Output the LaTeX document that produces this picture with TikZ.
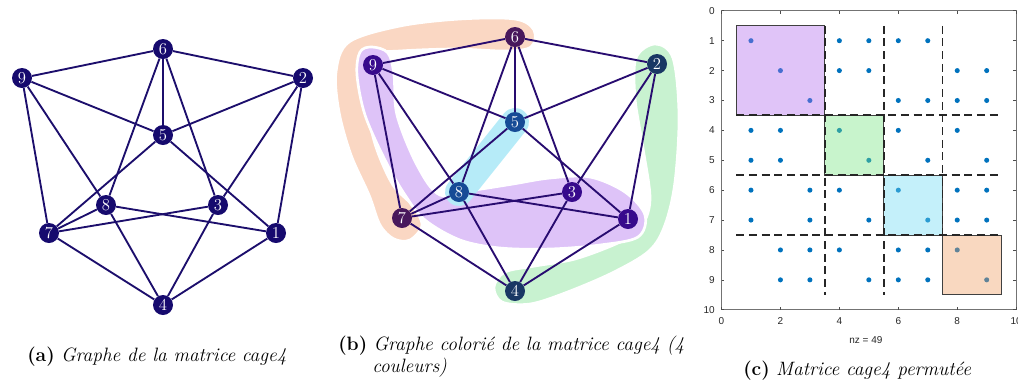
\documentclass[tikz,border=0pt]{standalone}
\usepackage{fontspec}
\newfontfamily\axisfont{Liberation Sans}
\definecolor{nodeA}{RGB}{22,10,110}
\definecolor{edgeA}{RGB}{28,14,108}
\definecolor{edgeB}{RGB}{40,12,112}
\definecolor{colPlum}{RGB}{72,24,92}
\definecolor{colViolet}{RGB}{55,10,140}
\definecolor{colNavy}{RGB}{25,55,100}
\definecolor{colBlue}{RGB}{22,75,150}
\definecolor{hullOrange}{RGB}{250,215,195}
\definecolor{hullPurple}{RGB}{222,195,248}
\definecolor{hullCyan}{RGB}{182,235,248}
\definecolor{hullGreen}{RGB}{200,242,208}
\definecolor{boxPurple}{RGB}{177,107,237}
\definecolor{boxGreen}{RGB}{117,227,127}
\definecolor{boxCyan}{RGB}{107,217,242}
\definecolor{boxOrange}{RGB}{240,157,97}
\definecolor{dotBlue}{RGB}{0,114,189}
\begin{document}
\begin{tikzpicture}
    [
        x=0.75pt, y=-0.75pt,
        every node/.style={inner sep=0pt},
        vertex/.style={circle, minimum size=15pt, text=white, font=\fontsize{12.5}{12.5}\selectfont},
        edgeA/.style={draw=edgeA, line width=1.4pt},
        edgeB/.style={draw=edgeB, line width=1.4pt},
        hull/.style={draw=white, line width=2pt},
        caption/.style={anchor=base west, font=\fontsize{14.5}{17}\selectfont},
        ticklabel/.style={font=\axisfont\fontsize{7.5}{9}\selectfont, text=black!85},
        blockline/.style={black!85, line width=1.45pt, dash pattern=on 6pt off 3.5pt},
    ]
  \useasboundingbox (0,0) rectangle (1018,387);

  % (a) Nodes
  \node [vertex, fill=nodeA] (A6) at (163,49) {6};
  \node [vertex, fill=nodeA] (A9) at (22,78) {9};
  \node [vertex, fill=nodeA] (A2) at (303,78) {2};
  \node [vertex, fill=nodeA] (A5) at (163,135) {5};
  \node [vertex, fill=nodeA] (A8) at (106,205) {8};
  \node [vertex, fill=nodeA] (A3) at (218,205) {3};
  \node [vertex, fill=nodeA] (A7) at (49,233) {7};
  \node [vertex, fill=nodeA] (A1) at (276,233) {1};
  \node [vertex, fill=nodeA] (A4) at (163,305) {4};

  % (a) Connections
  \foreach \u/\v in {6/9,6/2,6/5,6/8,6/3,9/5,9/8,9/7,2/5,2/3,2/1,5/7,5/1,8/7,8/1,8/4,3/7,3/4,7/4,1/4}
    \draw [edgeA] (A\u) -- (A\v);

  % (b) Colour classes
  \fill [hullOrange, hull] plot [smooth cycle, tension=0.55] coordinates {(515,19) (534,30) (531,47) (505,51) (455,49) (400,51) (369,55) (363,80) (368,115) (377,150) (393,185) (412,205) (422,225) (410,240) (394,239) (380,225) (369,195) (351,155) (339,112) (336,72) (349,42) (400,26) (460,19)};
  \fill [hullGreen, hull] plot [smooth cycle, tension=0.55] coordinates {(655,44) (673,58) (679,115) (675,182) (665,225) (649,251) (612,273) (565,293) (530,304) (502,302) (494,287) (505,272) (535,266) (575,259) (618,243) (640,229) (650,200) (643,148) (635,98) (636,58)};
  \fill [hullPurple, hull] plot [smooth cycle, tension=0.55] coordinates {(372,47) (388,53) (394,75) (397,115) (417,165) (440,195) (475,190) (513,184) (550,178) (590,177) (625,192) (645,215) (638,237) (600,245) (550,249) (500,248) (460,240) (425,220) (405,195) (385,160) (365,115) (357,75) (360,52)};
  \draw [hullCyan, line width=21pt, line cap=round] (459,192) -- (515,122);

  % (b) Nodes
  \node [vertex, fill=colPlum] (B6) at (515,37) {6};
  \node [vertex, fill=colViolet] (B9) at (373,65) {9};
  \node [vertex, fill=colNavy] (B2) at (657,64) {2};
  \node [vertex, fill=colBlue] (B5) at (515,122) {5};
  \node [vertex, fill=colBlue] (B8) at (459,192) {8};
  \node [vertex, fill=colViolet] (B3) at (572,192) {3};
  \node [vertex, fill=colPlum] (B7) at (402,218) {7};
  \node [vertex, fill=colViolet] (B1) at (628,219) {1};
  \node [vertex, fill=colNavy] (B4) at (515,291) {4};

  % (b) Connections
  \foreach \u/\v in {6/9,6/2,6/5,6/8,6/3,9/5,9/8,9/7,2/5,2/3,2/1,5/7,5/1,8/7,8/1,8/4,3/7,3/4,7/4,1/4}
    \draw [edgeB] (B\u) -- (B\v);

  % (c) Permuted matrix
  \begin{scope}[shift={(721.5,10.8)}, x=22.1pt, y=-22.42pt]
    \foreach \r/\cols in {1/{1,4,5,6,7}, 2/{2,4,5,8,9}, 3/{3,6,7,8,9}, 4/{1,2,4,6,8}, 5/{1,2,5,7,9},
                          6/{1,3,4,6,8,9}, 7/{1,3,5,7,8,9}, 8/{2,3,4,6,7,8}, 9/{2,3,5,6,7,9}}
      \foreach \c in \cols
        \fill [dotBlue] (\c,\r) circle [radius=1.9pt];
    \filldraw [fill=boxPurple, fill opacity=0.4, draw=black!75, line width=0.6pt] (0.5,0.5) rectangle (3.5,3.5);
    \filldraw [fill=boxGreen, fill opacity=0.4, draw=black!75, line width=0.6pt] (3.5,3.5) rectangle (5.5,5.5);
    \filldraw [fill=boxCyan, fill opacity=0.4, draw=black!75, line width=0.6pt] (5.5,5.5) rectangle (7.5,7.5);
    \filldraw [fill=boxOrange, fill opacity=0.4, draw=black!75, line width=0.6pt] (7.5,7.5) rectangle (9.5,9.5);
    \draw [blockline] (3.5,0.5) -- (3.5,9.5);
    \draw [blockline] (5.5,0.5) -- (5.5,9.5);
    \draw [blockline] (7.5,0.5) -- (7.5,7.5);
    \draw [blockline] (0.5,3.5) -- (9.5,3.5);
    \draw [blockline] (0.5,5.5) -- (9.5,5.5);
    \draw [blockline] (0.5,7.5) -- (9.5,7.5);
    \draw [black!55, line width=0.5pt] (0,0) rectangle (10,10);
    \foreach \k in {0,...,10} {
      \draw [black!70, line width=0.5pt] (0,\k) -- ++(0.1,0);
      \draw [black!70, line width=0.5pt] (10,\k) -- ++(-0.1,0);
      \node [ticklabel, anchor=east] (yl\k) at (-0.22,\k) {\k};
    }
    \foreach \k in {0,2,...,10} {
      \draw [black!70, line width=0.5pt] (\k,10) -- ++(0,-0.1);
      \draw [black!70, line width=0.5pt] (\k,0) -- ++(0,0.1);
      \node [ticklabel, anchor=north] (xl\k) at (\k,10.25) {\k};
    }
    \node [ticklabel] (nz) at (4.9,11.0) {nz = 49};
  \end{scope}

  % Captions
  \node [caption] (capA) at (27,361) {\textbf{(a)} \textit{Graphe de la matrice cage4}};
  \node [caption] (capB) at (338,350) {\textbf{(b)} \textit{Graphe colorié de la matrice cage4 (4}};
  \node [caption] (capB2) at (372,372) {\textit{couleurs)}};
  \node [caption] (capC) at (743,375) {\textbf{(c)} \textit{Matrice cage4 permutée}};
\end{tikzpicture}
\end{document}
